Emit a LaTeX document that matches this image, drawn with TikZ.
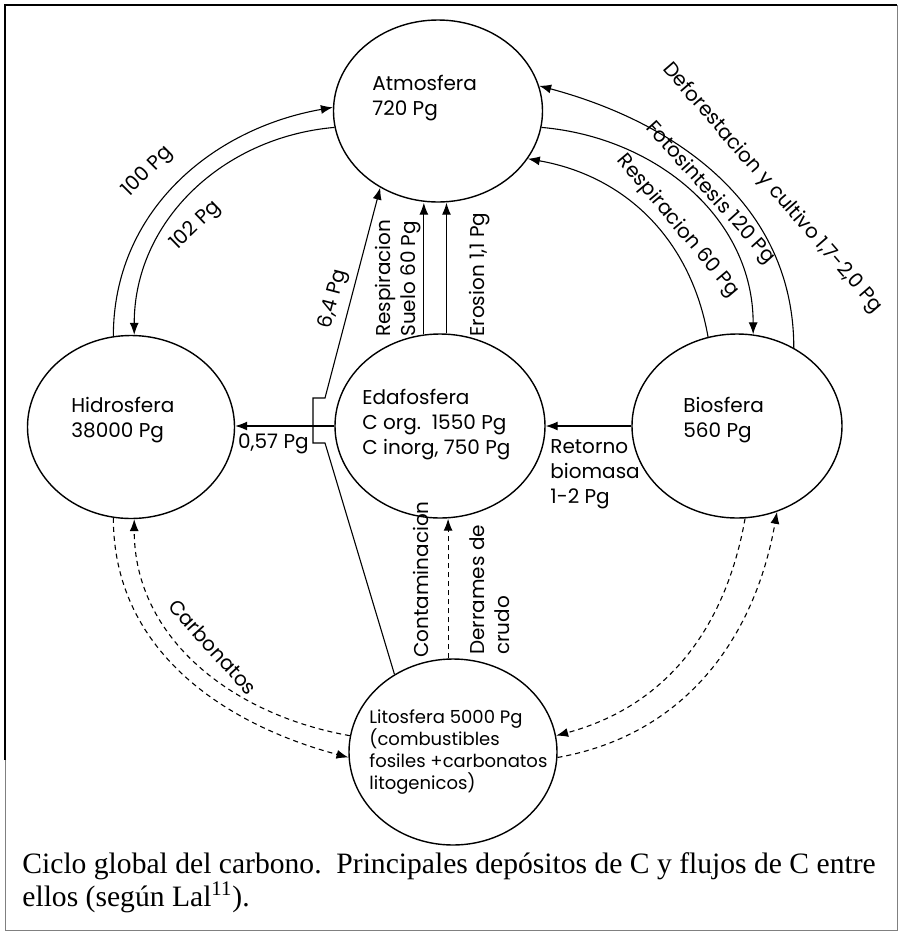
\documentclass[tikz,border=0pt]{standalone}
\usepackage{fontspec}
\usetikzlibrary{shapes.geometric, arrows.meta}

\newfontfamily\gothicfont{Poppins}
\newfontfamily\timesfont{Liberation Serif}
\newcommand\poolfont{\gothicfont\fontsize{10}{12.5}\selectfont}
\newcommand\litofont{\gothicfont\fontsize{9}{11}\selectfont}
\newcommand\capfont{\timesfont\fontsize{14.8}{15}\selectfont}

\tikzset{
  pool/.style={draw, ellipse, line width=0.7pt, inner sep=0pt},
  pooltext/.style={font=\poolfont, align=left, inner sep=0pt, anchor=base west},
  flow/.style={-{Latex[length=6pt,width=4.5pt]}, line width=0.55pt},
  flowdash/.style={flow, dash pattern=on 2.5pt off 2pt},
  fluxlabel/.style={font=\poolfont, inner sep=0pt},
}

\begin{document}
\begin{tikzpicture}[x=0.5pt, y=0.5pt]
  \useasboundingbox (0,0) rectangle (900,-933);

  % --- marco ---
  \draw[gray, line width=0.5pt] (5,-5) rectangle (897,-930);
  \draw[line width=1.2pt] (5,-760) -- (5,-5) -- (897,-5);

  % --- depositos ---
  \node[pool, minimum width=104.5pt, minimum height=91pt] (atm) at (438,-111) {};
  \node[pool, minimum width=103.5pt, minimum height=91.5pt] (hidro) at (131,-427) {};
  \node[pool, minimum width=105pt, minimum height=92pt] (edafo) at (440,-426) {};
  \node[pool, minimum width=105pt, minimum height=92pt] (bio) at (737,-426) {};
  \node[pool, minimum width=104pt, minimum height=93pt] (lito) at (453,-752) {};

  % (el ancla base es la ultima linea)
  \node[pooltext] (atmtxt) at (372,-115) {Atmosfera\\720 Pg};
  \node[pooltext] (hidrotxt) at (71,-437) {Hidrosfera\\38000 Pg};
  \node[pooltext] (edafotxt) at (362,-454) {Edafosfera\\C org.\ \ 1550 Pg\\C inorg, 750 Pg};
  \node[pooltext] (biotxt) at (683,-437) {Biosfera\\560 Pg};
  \node[pooltext, font=\litofont] (litotxt) at (369,-789)
    {Litosfera 5000 Pg\\(combustibles\\fosiles +carbonatos\\litogenicos)};

  % --- atmosfera <-> hidrosfera ---
  \draw[flow] (hidro.101) to[out=90, in=190] (atm.178);
  \draw[flow] (atm.189) to[out=185, in=90] (hidro.88);
  \node[fluxlabel, rotate=45] (l100) at (148,-172) {100 Pg};
  \node[fluxlabel, rotate=44] (l102) at (196,-226) {102 Pg};

  % --- atmosfera <-> biosfera ---
  \draw[flow] (bio.54) to[out=90, in=-15] (atm.14);
  \draw[flow] (atm.351) to[out=-5, in=90] (bio.80);
  \draw[flow] (bio.108) to[out=100, in=-10] (atm.332);
  \node[fluxlabel, rotate=-49] (ldefor) at (772,-188) {Deforestacion y cultivo 1,7-2,0 Pg};
  \node[fluxlabel, rotate=-48] (lfoto) at (710,-193) {Fotosintesis 120 Pg};
  \node[fluxlabel, rotate=-50] (lresp) at (678,-226) {Respiracion 60 Pg};

  % --- edafosfera -> atmosfera ---
  \draw[flow] (edafo.100) -- (edafo.100 |- atm.south);
  \draw[flow] (edafo.86) -- (edafo.86 |- atm.south);
  \node[fluxlabel, rotate=90, anchor=south west, align=left] (lsuelo) at (421,-337)
    {Respiracion\\Suelo 60 Pg};
  \node[fluxlabel, rotate=90, anchor=north west] (lerosion) at (469,-337) {Erosion 1,1 Pg};

  % --- litosfera -> atmosfera (salto) ---
  \coordinate (hoplow) at (325,-443);
  \coordinate (hoplowin) at (313,-443);
  \coordinate (hopupin) at (313,-398);
  \coordinate (hopup) at (325,-398);
  \draw[flow] (lito.127) -- (hoplow) -- (hoplowin) -- (hopupin) -- (hopup) -- (atm.233)
    node[fluxlabel, pos=0.45, sloped, above=3pt] (l64) {6,4 Pg};

  % --- edafosfera -> hidrosfera ---
  \draw[flow] (edafo.west) -- (edafo.west -| hidro.east);
  \node[fluxlabel, anchor=base east] (l057) at (309,-448) {0,57 Pg};

  % --- biosfera -> edafosfera ---
  \draw[flow] (bio.west) -- (edafo.east);
  \node[pooltext] (lretorno) at (550,-503) {Retorno\\biomasa\\1-2 Pg};

  % --- litosfera -> edafosfera ---
  \draw[flowdash] (lito.93) -- (lito.93 |- edafo.south);
  \node[fluxlabel, rotate=90, anchor=south west] (lcontam) at (429,-658) {Contaminacion};
  \node[fluxlabel, rotate=90, anchor=north west, align=left] (lderr) at (469,-655)
    {Derrames de\\crudo};

  % --- hidrosfera <-> litosfera ---
  \draw[flowdash] (hidro.259) to[out=-90, in=165] (lito.183);
  \draw[flowdash] (lito.171) to[out=170, in=-90] (hidro.272);
  \node[fluxlabel, rotate=-48] (lcarb) at (213,-647) {Carbonatos};

  % --- biosfera <-> litosfera ---
  \draw[flowdash] (lito.357) to[out=10, in=-100] (bio.295);
  \draw[flowdash] (bio.275) to[out=-100, in=15] (lito.9);

  % --- pie ---
  \node[font=\capfont, anchor=base west, align=left, inner sep=0pt] (caption) at (22,-906)
    {Ciclo global del carbono.\ \ Principales depósitos de C y flujos de C entre\\
     ellos (según Lal\textsuperscript{11}).};

\end{tikzpicture}
\end{document}
